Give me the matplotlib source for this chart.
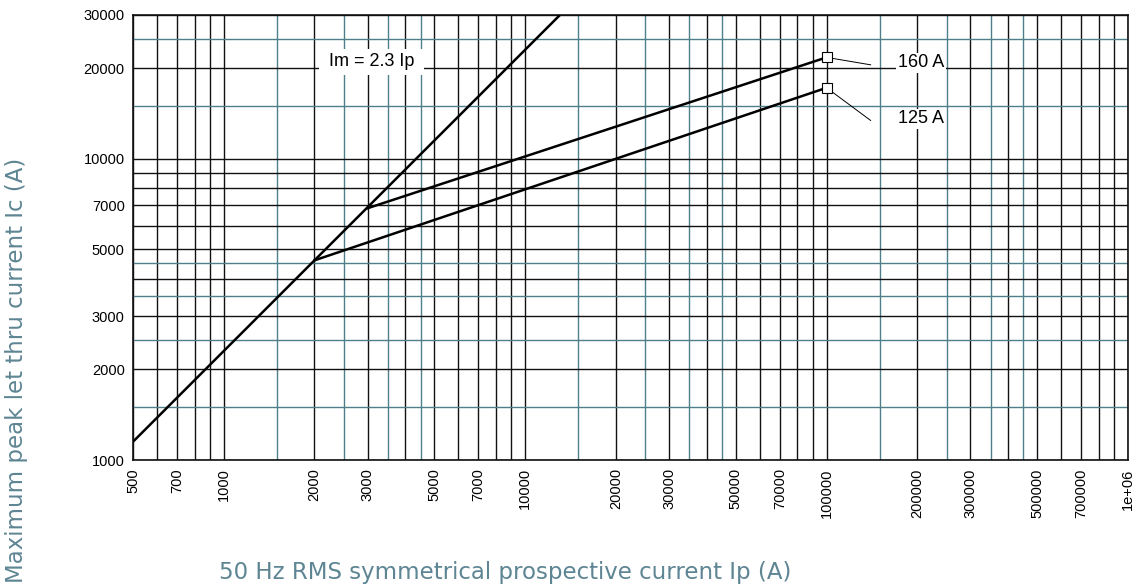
import matplotlib
matplotlib.use('Agg')
import matplotlib.pyplot as plt
from matplotlib.ticker import FixedLocator, FixedFormatter

# let-through current chart data
diag_ip = [500, 13043]
diag_ic = [1150, 30000]
ip_125 = [2000, 100000]
ic_125 = [4600, 17200]
ip_160 = [3000, 100000]
ic_160 = [6850, 21700]

x_black = [600, 700, 800, 900, 1000, 2000, 3000, 4000, 5000, 6000, 7000, 8000, 9000,
           10000, 20000, 30000, 40000, 50000, 60000, 70000, 80000, 90000,
           100000, 200000, 300000, 400000, 500000, 600000, 700000, 800000, 900000]
x_teal = [1500, 2500, 3500, 4500, 15000, 25000, 35000, 45000,
          150000, 250000, 350000, 450000]
x_labeled = [500, 700, 1000, 2000, 3000, 5000, 7000, 10000, 20000, 30000, 50000,
             70000, 100000, 200000, 300000, 500000, 700000, 1000000]

y_black = [2000, 3000, 4000, 5000, 6000, 7000, 8000, 9000, 10000, 20000]
y_teal = [1500, 2500, 3500, 4500, 15000, 25000]
y_labeled = [1000, 2000, 3000, 5000, 7000, 10000, 20000, 30000]

teal = '#4f7f89'
label_col = '#5e8593'

fig = plt.figure(figsize=(11.34, 5.87), dpi=100)
ax = fig.add_axes([133/1134, 1 - 460/587, (1128-133)/1134, (460-15)/587])
ax.set_xscale('log')
ax.set_yscale('log')
ax.set_xlim(500, 1e6)
ax.set_ylim(1000, 30000)

def fmt(v):
    return '1e+06' if v == 1000000 else str(v)

xmaj = sorted(set(x_black + x_labeled))
ax.xaxis.set_major_locator(FixedLocator(xmaj))
ax.xaxis.set_major_formatter(FixedFormatter([fmt(v) if v in x_labeled else '' for v in xmaj]))
ax.xaxis.set_minor_locator(FixedLocator(x_teal))
ax.xaxis.set_minor_formatter(FixedFormatter([''] * len(x_teal)))

ymaj = sorted(set(y_black + y_labeled))
ax.yaxis.set_major_locator(FixedLocator(ymaj))
ax.yaxis.set_major_formatter(FixedFormatter([str(v) if v in y_labeled else '' for v in ymaj]))
ax.yaxis.set_minor_locator(FixedLocator(y_teal))
ax.yaxis.set_minor_formatter(FixedFormatter([''] * len(y_teal)))

ax.grid(which='major', color='#111111', lw=1.0)
ax.grid(which='minor', color=teal, lw=1.0)
ax.tick_params(which='both', length=0)
ax.tick_params(axis='x', labelrotation=90, pad=6)
ax.tick_params(axis='y', pad=6)
for lab in ax.get_xticklabels() + ax.get_yticklabels():
    lab.set_fontfamily('Liberation Sans')
    lab.set_fontsize(10.5)
for s in ax.spines.values():
    s.set_color('#111111')
    s.set_linewidth(1.2)

ax.plot(diag_ip, diag_ic, color='black', lw=1.8, solid_capstyle='butt', zorder=3)
ax.plot(ip_125, ic_125, color='black', lw=1.8, zorder=3)
ax.plot(ip_160, ic_160, color='black', lw=1.8, zorder=3)
ax.plot([ip_125[-1]], [ic_125[-1]], 's', ms=6.5, mfc='white', mec='black', mew=0.8, zorder=4)
ax.plot([ip_160[-1]], [ic_160[-1]], 's', ms=6.5, mfc='white', mec='black', mew=0.8, zorder=4)

# leader lines to the rating labels
ax.plot([ip_160[-1], 140000], [ic_160[-1], 20500], color='black', lw=0.7, zorder=3)
ax.plot([ip_125[-1], 140000], [ic_125[-1], 13400], color='black', lw=0.7, zorder=3)

tfont = dict(family='Liberation Sans', fontsize=13, va='center', ha='left', zorder=5)
ax.text(2150, 21000, ' Im = 2.3 Ip ', bbox=dict(fc='white', ec='none', boxstyle='square,pad=0.25'), **tfont)
ax.text(172000, 20800, '160 A', bbox=dict(fc='white', ec='none', boxstyle='square,pad=0.1'), **tfont)
ax.text(172000, 13550, '125 A', bbox=dict(fc='white', ec='none', boxstyle='square,pad=0.1'), **tfont)

fig.text(505/1134, 1 - 572/587, '50 Hz RMS symmetrical prospective current Ip (A)',
         ha='center', va='center', fontsize=16.5, family='DejaVu Sans', color=label_col)
fig.text(17/1134, 1 - 158/587, 'Maximum peak let thru current Ic (A)',
         ha='center', va='top', rotation=90, fontsize=16.5, family='DejaVu Sans', color=label_col)

fig.savefig('out.png', dpi=100)
